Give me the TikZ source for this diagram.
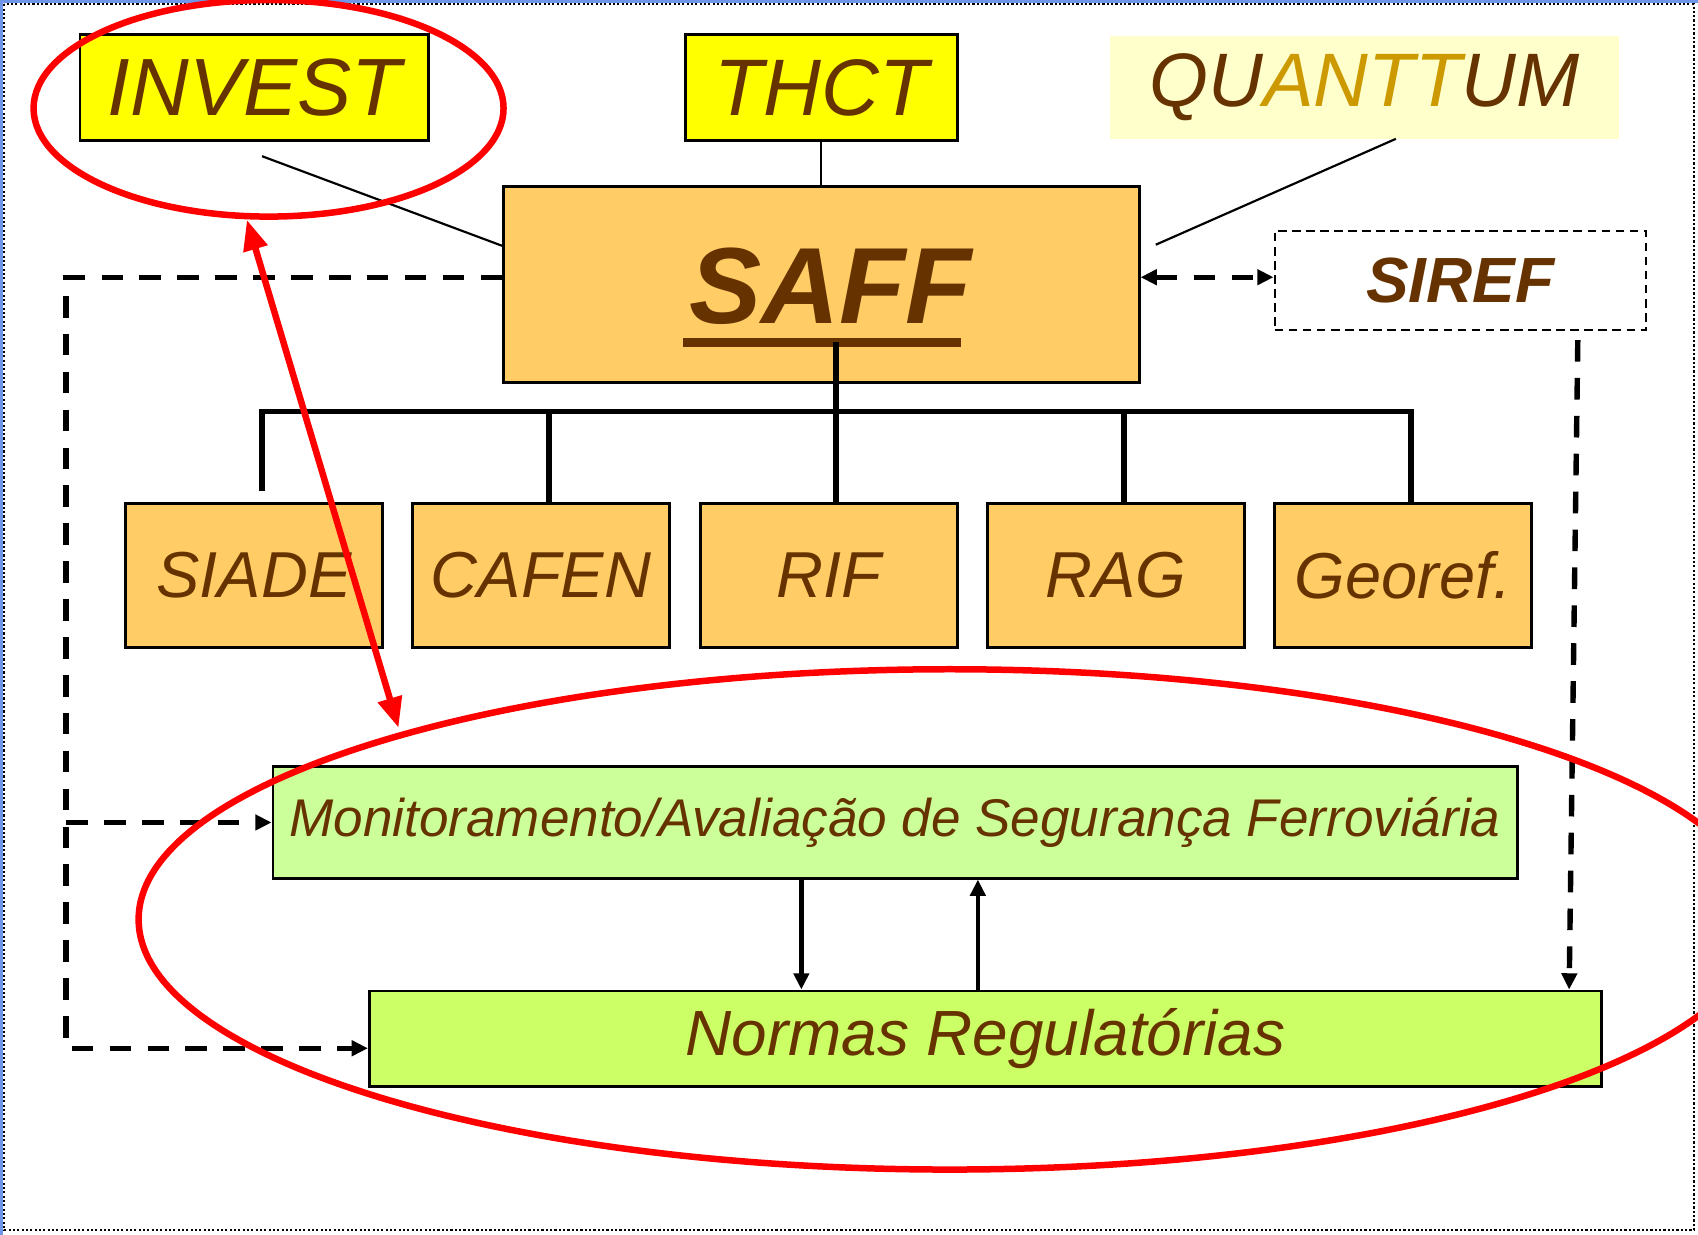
\documentclass[tikz,border=0pt]{standalone}
\usepackage{fontspec}
\setmainfont{Liberation Sans}
\usetikzlibrary{arrows.meta,shapes.geometric,calc}
\definecolor{brn}{HTML}{663300}
\definecolor{gld}{HTML}{CC9900}
\definecolor{ylw}{HTML}{FFFF00}
\definecolor{lylw}{HTML}{FFFFCC}
\definecolor{org}{HTML}{FFCC66}
\definecolor{lgrn}{HTML}{CCFF99}
\definecolor{grn}{HTML}{CCFF66}
\definecolor{bdrblue}{RGB}{110,150,235}
\begin{document}
\begin{tikzpicture}[x=1pt,y=-1pt,
  box/.style={draw=black,line width=2.5pt,inner sep=0pt,text=brn},
  txt/.style={text=brn,inner sep=0pt},
  thin/.style={draw=black,line width=2pt},
  bus/.style={draw=black,line width=5.5pt},
  dsh/.style={draw=black,line width=5pt,dash pattern=on 20pt off 15pt},
  tip/.style={-{Triangle[length=15pt,width=14pt]}},
  redl/.style={draw=red,line width=6pt},
  redell/.style={ellipse,draw=red,line width=6pt,inner sep=0pt},
]
\useasboundingbox (0,0) rectangle (1568,1140);
\clip (0,0) rectangle (1568,1140);
% frame
\draw[bdrblue,line width=3pt] (1.5,1140) -- (1.5,1.5) -- (1568,1.5);
\draw[black,line width=2pt,dotted] (4,4) rectangle (1564,1136);

% top boxes
\node[box,fill=ylw,minimum width=322pt,minimum height=98pt,font=\fontsize{75}{80}\selectfont\itshape] (invest) at (235,81) {INVEST};
\node[box,fill=ylw,minimum width=251pt,minimum height=98pt,font=\fontsize{74}{80}\selectfont\itshape] (thct) at (758.5,81) {THCT};
\node[fill=lylw,inner sep=0pt,minimum width=470pt,minimum height=95pt,font=\fontsize{70}{76}\selectfont\itshape] (quant) at (1260,80.5) {\textcolor{brn}{QU}\textcolor{gld}{ANTT}\textcolor{brn}{UM}};

% SAFF
\node[box,fill=org,minimum width=587pt,minimum height=181pt] (saff) at (758.5,262.5) {};
\node[txt,font=\fontsize{100}{106}\selectfont\bfseries\itshape] (safftxt) at (767,264) {SAFF};
\fill[brn] (631,312) rectangle (887,320);

% SIREF
\node[draw=black,line width=2pt,dash pattern=on 8pt off 5pt,text=brn,inner sep=0pt,minimum width=343pt,minimum height=92pt,font=\fontsize{59}{64}\selectfont\bfseries\itshape] (siref) at (1348.5,259) {SIREF};

% second level
\begin{scope}[every node/.style={box,fill=org,minimum width=237pt,minimum height=133pt,font=\fontsize{60}{66}\selectfont\itshape}]
\node (siade) at (234.5,531.5) {SIADE};
\node (cafen) at (499.5,531.5) {CAFEN};
\node (rif) at (765.5,531.5) {RIF};
\node (rag) at (1030.5,531.5) {RAG};
\node (geo) at (1295.5,531.5) {Georef.};
\end{scope}

% bottom boxes
\node[box,fill=lgrn,minimum width=1149pt,minimum height=103pt,font=\fontsize{49}{54}\selectfont\itshape] (monit) at (826.5,759.5) {Monitoramento/Avaliação de Segurança Ferroviária};
\node[box,fill=grn,minimum width=1138pt,minimum height=88pt,font=\fontsize{59}{64}\selectfont\itshape] (normas) at (910,959) {Normas Regulatórias};

% thin connectors
\draw[thin] ([xshift=7pt,yshift=-13pt]invest.south) -- ([yshift=35.5pt]saff.west);
\draw[thin] (thct.south) -- (saff.north);
\draw[thin] ([xshift=29pt]quant.south) -- ([xshift=14pt,yshift=36.5pt]saff.east);

% hierarchy bus
\coordinate (bt) at (772,316);
\coordinate (hl) at (242,380);
\coordinate (hc) at (507,380);
\coordinate (hg) at (1038,380);
\coordinate (hr) at (1303,380);
\draw[bus] (bt) -- (bt |- rif.north);
\draw[bus] ($(hl |- siade.north)+(0,-10)$) -- (hl) -- (hr) -- (hr |- geo.north);
\draw[bus] (hc) -- ($(hc |- cafen.north)+(0,2)$);
\draw[bus] (hg) -- (hg |- rag.north);

% dashed left connectors
\coordinate (lc1) at (61,256);
\coordinate (lc2) at (61,968);
\coordinate (lcm) at (61,759.5);
\draw[dsh,tip] ([yshift=6.5pt]saff.west) -- (lc1) -- (lc2) -- ([yshift=-9pt]normas.west);
\draw[dsh,tip] (lcm) -- (monit.west);

% SAFF <-> SIREF
\draw[dsh,{Triangle[length=15pt,width=14pt]}-{Triangle[length=15pt,width=14pt]}] ([yshift=6.5pt]saff.east) -- ([yshift=6.5pt]saff.east -| siref.west);

% SIREF down to Normas
\draw[dsh,tip] ([xshift=108.5pt,yshift=-8pt]siref.south) -- ([xshift=539pt]normas.north);

% monit <-> normas
\draw[black,line width=4pt,tip] ([xshift=-86.5pt]monit.south) -- ([xshift=-86.5pt]monit.south |- normas.north);
\draw[black,line width=4pt,tip] ([xshift=-7pt]normas.north) -- ([xshift=-7pt]normas.north |- monit.south);

% red highlights
\node[redell,minimum width=434pt,minimum height=200pt] (invell) at (248,100) {};
\node[redell,minimum width=1498pt,minimum height=462pt] (bigell) at (877,849) {};
\draw[redl,{Triangle[length=28pt,width=22pt]}-{Triangle[length=28pt,width=22pt]}] ($(invell.center)+(-20,103)$) -- ($(bigell.center)+(-509,-177)$);
\end{tikzpicture}
\end{document}
